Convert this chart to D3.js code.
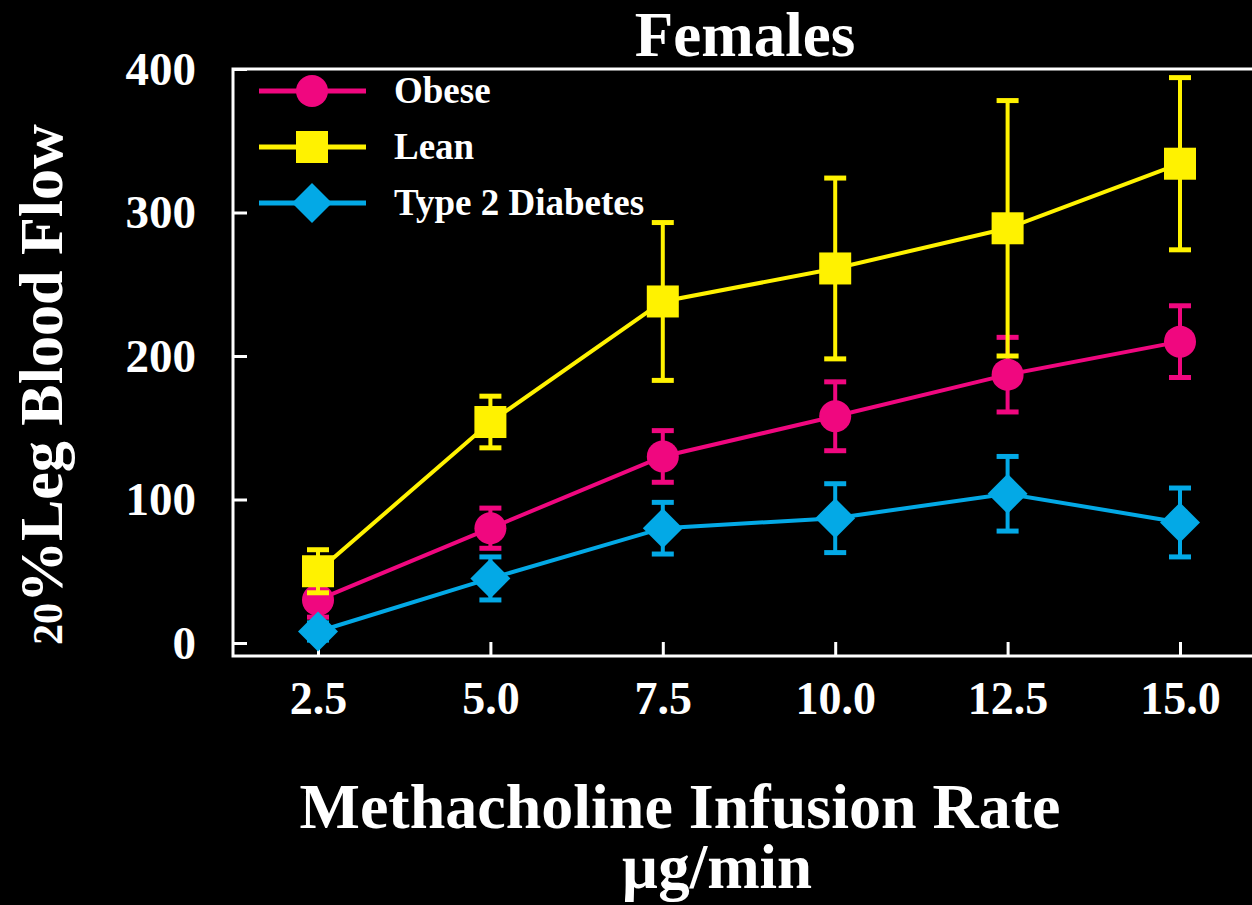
<!DOCTYPE html>
<html>
<head>
<meta charset="utf-8">
<script src="https://cdn.jsdelivr.net/npm/d3@7"></script>
<style>
  html, body { margin: 0; padding: 0; background: #000; }
  svg text { font-family: "Liberation Serif", "Times New Roman", serif; font-weight: bold; fill: #fff; }
</style>
</head>
<body>
<div id="container"></div>
<script>
// data
let rates = [2.5, 5.0, 7.5, 10.0, 12.5, 15.0];
let xTickLabels = ["2.5", "5.0", "7.5", "10.0", "12.5", "15.0"];
let yTicks = [0, 100, 200, 300, 400];

let obeseMean = [30, 80, 130, 158, 187, 210];
let obeseErr  = [12, 14, 18, 24, 26, 25];
let leanMean  = [50, 154, 238, 261, 289, 334];
let leanErr   = [15, 18, 55, 63, 89, 60];
let diabMean  = [8, 45, 80, 87, 104, 84];
let diabErr   = [6, 15, 18, 24, 26, 24];

let seriesNames = ["Obese", "Lean", "Type 2 Diabetes"];
let seriesColors = ["#f0077f", "#fff200", "#03a9e6"];

let w = 1252;
let h = 905;

let series = [
  {name: seriesNames[0], color: seriesColors[0], shape: "circle", mean: obeseMean, err: obeseErr},
  {name: seriesNames[1], color: seriesColors[1], shape: "square", mean: leanMean, err: leanErr},
  {name: seriesNames[2], color: seriesColors[2], shape: "diamond", mean: diabMean, err: diabErr}
];

let xScale = d3.scaleLinear().domain([2.5, 15]).range([318, 1180]);
let yScale = d3.scaleLinear().domain([0, 400]).range([643, 69]);

let frameL = 233, frameR = 1252, frameT = 69, frameB = 656;

let viz = d3.select("#container")
  .append("svg")
    .attr("width", w)
    .attr("height", h)
    .style("background-color", "black");

// frame lines
viz.append("path")
  .attr("d", `M${frameR},${frameT}H${frameL}V${frameB}H${frameR}`)
  .attr("fill", "none")
  .attr("stroke", "#fff")
  .attr("stroke-width", 3);

// y axis
let yAxis = viz.append("g")
  .attr("transform", `translate(${frameL},0)`)
  .call(d3.axisLeft(yScale).tickValues(yTicks).tickSize(-14).tickPadding(37).tickFormat(d3.format("d")));
yAxis.select(".domain").remove();
yAxis.selectAll("line").attr("stroke", "#fff").attr("stroke-width", 3);
yAxis.selectAll("text").attr("font-size", 47).attr("fill", "#fff")
  .attr("font-family", "Liberation Serif").attr("font-weight", "bold");

// x axis
let xAxis = viz.append("g")
  .attr("transform", `translate(0,${frameB})`)
  .call(d3.axisBottom(xScale).tickValues(rates).tickSize(-14).tickPadding(25).tickFormat((d, i) => xTickLabels[i]));
xAxis.select(".domain").remove();
xAxis.selectAll("line").attr("stroke", "#fff").attr("stroke-width", 3);
xAxis.selectAll("text").attr("font-size", 46).attr("fill", "#fff")
  .attr("font-family", "Liberation Serif").attr("font-weight", "bold");

function drawMarker(g, shape, color) {
  if (shape == "circle") {
    g.append("circle").attr("r", 16).attr("fill", color);
  } else if (shape == "square") {
    g.append("rect").attr("x", -16).attr("y", -16).attr("width", 32).attr("height", 32).attr("fill", color);
  } else {
    g.append("path").attr("d", "M0,-20L20,0L0,20L-20,0Z").attr("fill", color);
  }
}

let line = d3.line().x(d => xScale(d.x)).y(d => yScale(d.y));

series.forEach(s => {
  let pts = rates.map((r, i) => ({x: r, y: s.mean[i], e: s.err[i]}));
  let g = viz.append("g");

  // error bars
  let eb = g.selectAll(".eb").data(pts).join("g");
  eb.append("line")
    .attr("x1", d => xScale(d.x)).attr("x2", d => xScale(d.x))
    .attr("y1", d => yScale(d.y - d.e)).attr("y2", d => yScale(d.y + d.e))
    .attr("stroke", s.color).attr("stroke-width", 4);
  [-1, 1].forEach(sign => {
    eb.append("line")
      .attr("x1", d => xScale(d.x) - 11).attr("x2", d => xScale(d.x) + 11)
      .attr("y1", d => yScale(d.y + sign * d.e)).attr("y2", d => yScale(d.y + sign * d.e))
      .attr("stroke", s.color).attr("stroke-width", 5);
  });

  g.append("path")
    .datum(pts)
    .attr("d", line)
    .attr("fill", "none")
    .attr("stroke", s.color)
    .attr("stroke-width", 4);

  g.selectAll(".mk").data(pts).join("g")
    .attr("transform", d => `translate(${xScale(d.x)},${yScale(d.y)})`)
    .each(function() { drawMarker(d3.select(this), s.shape, s.color); });
});

// legend
let legendY = [91, 147, 203];
series.forEach((s, i) => {
  let lg = viz.append("g").attr("transform", `translate(0,${legendY[i]})`);
  lg.append("line").attr("x1", 259).attr("x2", 366).attr("y1", 0).attr("y2", 0)
    .attr("stroke", s.color).attr("stroke-width", 5);
  let m = lg.append("g").attr("transform", "translate(312,0)");
  drawMarker(m, s.shape, s.color);
  lg.append("text").attr("x", 394).attr("y", 12).attr("font-size", 37).text(s.name);
});

// titles
viz.append("text").attr("x", 745).attr("y", 56).attr("text-anchor", "middle")
  .attr("font-size", 63).text("Females");

viz.append("text").attr("x", 680).attr("y", 828).attr("text-anchor", "middle")
  .attr("font-size", 64).text("Methacholine Infusion Rate");
viz.append("text").attr("x", 717).attr("y", 888).attr("text-anchor", "middle")
  .attr("font-size", 63).text("µg/min");

let yTitle = viz.append("text")
  .attr("transform", "translate(62,645) rotate(-90)")
  .attr("font-size", 62);
yTitle.append("tspan").attr("font-size", 42).text("20");
yTitle.append("tspan").text("%Leg Blood Flow");
</script>
</body>
</html>
